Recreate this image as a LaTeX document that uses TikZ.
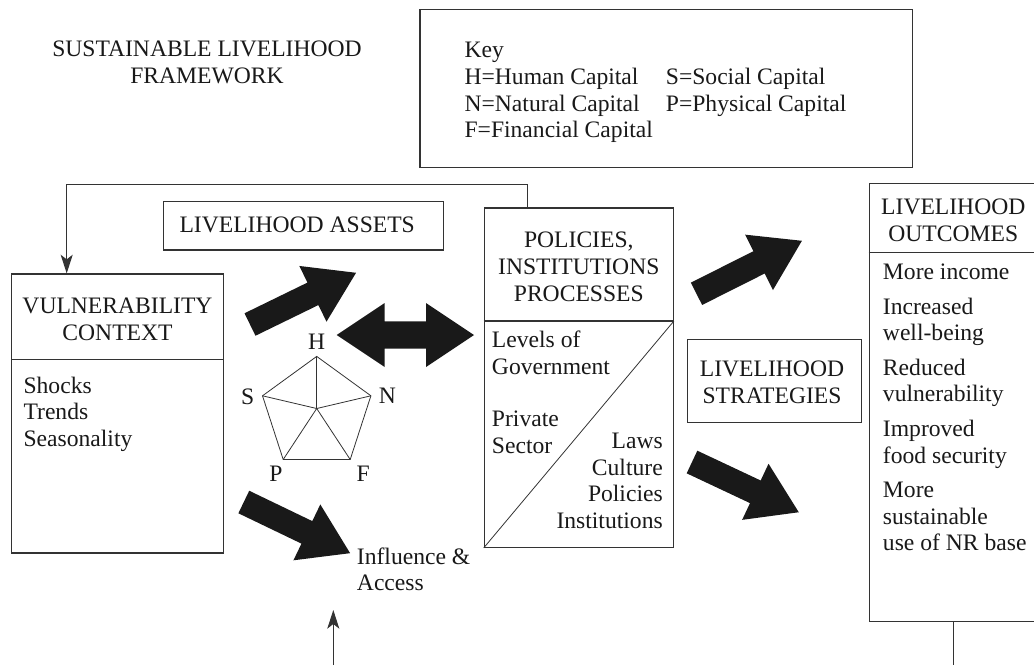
\documentclass[tikz,border=0pt]{standalone}
\usepackage{fontspec}
\setmainfont{Liberation Serif}
\usetikzlibrary{arrows.meta,fit,calc}
\definecolor{linec}{gray}{0.2}
\definecolor{textc}{gray}{0.1}
\definecolor{arrowc}{gray}{0.1}
\tikzset{
  box/.style={draw=linec, line width=0.9pt, inner sep=0pt},
  txt/.style={inner sep=0pt, text=textc},
  conn/.style={draw=linec, line width=0.8pt},
  tip/.style={-{Stealth[length=14pt,width=9pt,inset=3.5pt]}},
  penta/.style={draw=linec, line width=0.6pt},
  fatarrow/.pic={\fill[arrowc] (0,-12.5) -- (70,-12.5) -- (70,-31) -- (118,0) -- (70,31) -- (70,12.5) -- (0,12.5) -- cycle;},
  dblarrow/.pic={\fill[arrowc] (0,0) -- (48,-32) -- (48,-13.7) -- (89.3,-13.7) -- (89.3,-32) -- (137.3,0) -- (89.3,32) -- (89.3,13.7) -- (48,13.7) -- (48,32) -- cycle;}
}
\begin{document}
\begin{tikzpicture}[x=0.75pt,y=-0.75pt,font=\fontsize{17.7}{20}\selectfont]
\useasboundingbox (0,0) rectangle (1034,665);
\clip (0,0) rectangle (1034,665);
\fill[white] (0,0) rectangle (1034,665);

% ---- box corners
\coordinate (k1) at (420,9.3);     \coordinate (k2) at (912.7,167.7);
\coordinate (a1) at (163.3,201.7); \coordinate (a2) at (443.3,250);
\coordinate (v1) at (11.7,274);    \coordinate (v2) at (223.3,553);
\coordinate (p1) at (484.3,208);   \coordinate (p2) at (673.3,547.3);
\coordinate (s1) at (687.7,339.3); \coordinate (s2) at (861.7,422.3);
\coordinate (o1) at (869.3,183.3); \coordinate (o2) at (1040,621.7);

\node[box, fit=(k1)(k2)] (key) {};
\node[box, fit=(a1)(a2)] (assets) {};
\node[box, fit=(v1)(v2)] (vuln) {};
\node[box, fit=(p1)(p2)] (pol) {};
\node[box, fit=(s1)(s2)] (strat) {};
\node[box, fit=(o1)(o2)] (out) {};

% ---- dividers
\coordinate (vdiv) at (0,359.3);
\coordinate (pdiv) at (0,321);
\coordinate (odiv) at (0,252.7);
\draw[box] (vuln.west |- vdiv) -- (vuln.east |- vdiv);
\draw[box] (pol.west |- pdiv) -- (pol.east |- pdiv);
\draw[box] (out.west |- odiv) -- (out.east |- odiv);
\draw[conn, line width=0.6pt] (pol.south west) -- (pol.east |- pdiv);

% ---- texts
\node[txt, align=center, anchor=north] (title) at (207,40.5) {SUSTAINABLE LIVELIHOOD\\FRAMEWORK};
\node[txt, align=left, anchor=north west] (keytxt) at (464.3,42.1)
  {Key\\\makebox[151pt][l]{H=Human Capital}S=Social Capital\\\makebox[151pt][l]{N=Natural Capital}P=Physical Capital\\F=Financial Capital};
\node[txt] (assetstxt) at (297.2,225) {LIVELIHOOD ASSETS};
\node[txt, align=center] (vulntitle) at (117.5,319.5) {VULNERABILITY\\CONTEXT};
\node[txt, align=left, anchor=north west] (vulnitems) at (23.3,376.5) {Shocks\\Trends\\Seasonality};
\node[txt, align=center] (poltitle) at (578.8,266.7) {POLICIES,\\INSTITUTIONS\\PROCESSES};
\node[txt, align=left, anchor=north west] (polgov) at (491.7,330.5) {Levels of\\Government};
\node[txt, align=left, anchor=north west] (polpriv) at (491.7,410.5) {Private\\Sector};
\node[txt, align=right, anchor=north east] (pollaws) at (663,432.9) {Laws\\Culture\\Policies\\Institutions};
\node[txt, align=center] (strattxt) at (772,382.5) {LIVELIHOOD\\STRATEGIES};
\node[txt, align=center] (outtitle) at (953.3,220) {LIVELIHOOD\\OUTCOMES};
\node[txt, align=left, anchor=north west] (outitems) at (882.7,263.9)
  {More income\\[5.8pt]Increased\\well-being\\[5.8pt]Reduced\\vulnerability\\[5.8pt]Improved\\food security\\[5.8pt]More\\sustainable\\use of NR base};
\node[txt, align=left, anchor=north west] (infl) at (356.7,547.2) {Influence \&\\Access};

% ---- pentagon
\coordinate (pc) at (316.7,408.5);
\coordinate (pH) at (316.7,356.4);
\coordinate (pN) at (370.9,395.8);
\coordinate (pF) at (350.2,459.5);
\coordinate (pP) at (283.2,459.5);
\coordinate (pS) at (262.5,395.8);
\draw[penta] (pH) -- (pN) -- (pF) -- (pP) -- (pS) -- cycle;
\foreach \v in {pH,pN,pF,pP,pS} \draw[penta] (pc) -- (\v);
\node[txt] (lH) at (316.7,341.7) {H};
\node[txt] (lS) at (247.7,396.7) {S};
\node[txt] (lN) at (387.3,395.7) {N};
\node[txt] (lP) at (276,473.3) {P};
\node[txt] (lF) at (363.3,473.3) {F};

% ---- big arrows
\pic[rotate=26] at (250,324.5) {fatarrow};
\pic[rotate=26.7] at (696.5,293.8) {fatarrow};
\pic[rotate=-25.7] at (243.8,502) {fatarrow};
\pic[rotate=-25.2] at (692,462) {fatarrow};
\pic at (336.7,335) {dblarrow};

% ---- thin connectors
\coordinate (fbr) at (527.7,0);
\coordinate (fbl) at (66.7,0);
\coordinate (fbtop) at (0,184.7);
\draw[conn, tip] (pol.north -| fbr) -- (fbr |- fbtop) -- (fbl |- fbtop) -- (vuln.north -| fbl);
\coordinate (iabot) at (333.3,665);
\coordinate (iatip) at (333.3,610);
\draw[conn, tip] (iabot) -- (iatip);
\coordinate (obot) at (953.5,665);
\draw[conn] (out.south -| obot) -- (obot);
\end{tikzpicture}
\end{document}
